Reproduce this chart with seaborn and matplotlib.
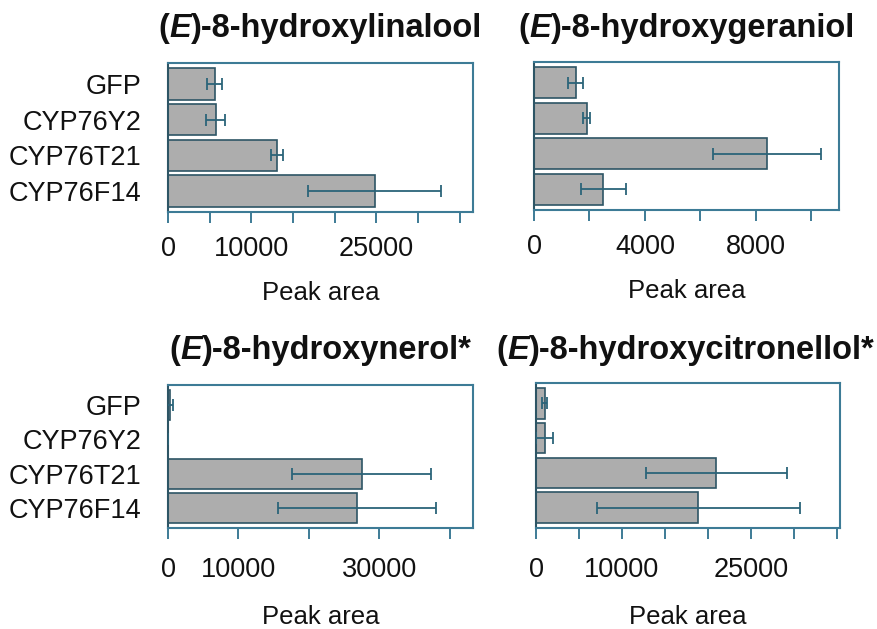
import matplotlib
matplotlib.use("Agg")
import matplotlib.pyplot as plt
import seaborn as sns
import pandas as pd

# ---------------- data ----------------
genes = ["GFP", "CYP76Y2", "CYP76T21", "CYP76F14"]

linalool_mean = [5600, 5700, 13100, 24800]
linalool_err = [900, 1100, 750, 8000]

geraniol_mean = [1500, 1900, 8400, 2500]
geraniol_err = [270, 130, 1950, 800]

nerol_mean = [300, 50, 27500, 26800]
nerol_err = [400, 0, 9900, 11200]

citronellol_mean = [1000, 1000, 21000, 18900]
citronellol_err = [300, 1000, 8200, 11800]

# x tick positions and labels (empty = unlabeled tick)
linalool_ticks = [0, 5000, 10000, 15000, 20000, 25000, 30000, 35000]
linalool_labels = ["0", "", "10000", "", "", "25000", "", ""]
geraniol_ticks = [0, 2000, 4000, 6000, 8000, 10000]
geraniol_labels = ["0", "", "4000", "", "8000", ""]
nerol_ticks = [0, 10000, 20000, 30000, 40000]
nerol_labels = ["0", "10000", "", "30000", ""]
citronellol_ticks = [0, 5000, 10000, 15000, 20000, 25000, 30000, 35000]
citronellol_labels = ["0", "", "10000", "", "", "25000", "", ""]

titles = [
    ("(", "E", ")-8-hydroxylinalool"),
    ("(", "E", ")-8-hydroxygeraniol"),
    ("(", "E", ")-8-hydroxynerol*"),
    ("(", "E", ")-8-hydroxycitronellol*"),
]
xlims = [36600, 11000, 43300, 35400]
xlabel = "Peak area"

# ---------------- style ----------------
sns.set_style("white")
plt.rcParams["font.family"] = ["Liberation Sans", "DejaVu Sans"]
plt.rcParams["text.color"] = "#111111"
plt.rcParams["axes.labelcolor"] = "#111111"
plt.rcParams["xtick.labelcolor"] = "#111111"
plt.rcParams["ytick.labelcolor"] = "#111111"

W, H = 877, 629
fig = plt.figure(figsize=(W / 100, H / 100), dpi=100)

frame_col = "#3d7b96"
err_col = "#2b6479"
bar_col = "#adadad"
edge_col = "#2d5565"

# axes boxes in pixel coordinates: left, right, top, bottom
boxes = [
    (168, 473, 63, 212),
    (534, 839, 62, 210),
    (168, 473, 385, 528),
    (536, 840, 383, 528),
]
title_y = [44, 44, 366, 366]
tick_pads = [9, 9, 13, 13]
label_pads = [14, 14, 16, 16]

datasets = [
    (linalool_mean, linalool_err, linalool_ticks, linalool_labels),
    (geraniol_mean, geraniol_err, geraniol_ticks, geraniol_labels),
    (nerol_mean, nerol_err, nerol_ticks, nerol_labels),
    (citronellol_mean, citronellol_err, citronellol_ticks, citronellol_labels),
]

title_parts = []
for i, ((l, r, t, b), (mean, err, ticks, tlabels)) in enumerate(zip(boxes, datasets)):
    ax = fig.add_axes([l / W, 1 - b / H, (r - l) / W, (b - t) / H])
    df = pd.DataFrame({"gene": genes, "area": mean})
    sns.barplot(data=df, x="area", y="gene", orient="h", order=genes,
                color=bar_col, saturation=1, errorbar=None, width=0.88,
                edgecolor=edge_col, linewidth=1.2, ax=ax)
    ax.errorbar(mean, list(range(len(genes))), xerr=err, fmt="none",
                ecolor=err_col, elinewidth=1.3, capsize=4, capthick=1.3,
                zorder=5)
    ax.set_xlim(0, xlims[i])
    ax.set_ylim(3.58, -0.58)
    ax.set_xticks(ticks)
    ax.set_xticklabels(tlabels)
    ax.set_ylabel("")
    ax.set_xlabel(xlabel, fontsize=18.5, labelpad=label_pads[i])
    for s in ax.spines.values():
        s.set_color(frame_col)
        s.set_linewidth(1.5)
    ax.spines["left"].set_color("#2d5565")
    ax.tick_params(axis="x", direction="out", length=8, width=1.4,
                   color=frame_col, labelsize=19.5, pad=tick_pads[i], bottom=True)
    ax.tick_params(axis="y", length=0, labelsize=19.5, pad=19, left=False)
    if i % 2 == 1:
        ax.tick_params(axis="y", labelleft=False)

    # title made of three pieces: "(", italic "E", rest
    p1, p2, p3 = titles[i]
    t1 = fig.text(l / W, 1 - title_y[i] / H, p1, fontsize=23.5,
                  fontweight="bold", ha="left", va="bottom")
    t2 = fig.text(0, 0, p2, fontsize=23.5, fontweight="bold", fontstyle="italic",
                  ha="left", va="bottom")
    t3 = fig.text(0, 0, p3, fontsize=23.5, fontweight="bold",
                  ha="left", va="bottom")
    title_parts.append((t1, t2, t3, (l + r) / 2))

fig.canvas.draw()
renderer = fig.canvas.get_renderer()
for t1, t2, t3, cx in title_parts:
    w1 = t1.get_window_extent(renderer).width
    w2 = t2.get_window_extent(renderer).width
    w3 = t3.get_window_extent(renderer).width
    total = w1 + w2 + w3
    x0 = min(cx - total / 2, W - 2 - total)
    y = t1.get_position()[1]
    t1.set_position((x0 / W, y))
    t2.set_position(((x0 + w1) / W, y))
    t3.set_position(((x0 + w1 + w2) / W, y))

fig.savefig("out.png", dpi=100, facecolor="white")
